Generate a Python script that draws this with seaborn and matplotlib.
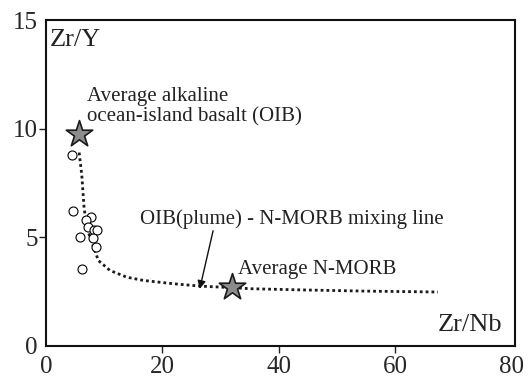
import numpy as np
import pandas as pd
import matplotlib
matplotlib.use("Agg")
import matplotlib.pyplot as plt
import seaborn as sns

# Sample data (Zr/Nb vs Zr/Y)
sample_zrnb = [4.5, 4.6, 7.7, 6.9, 7.3, 8.2, 8.85, 5.8, 8.05, 8.6, 6.2]
sample_zry = [8.8, 6.2, 5.95, 5.78, 5.45, 5.33, 5.33, 5.0, 4.96, 4.53, 3.55]

# End members
oib = (5.6, 9.75)
nmorb = (31.9, 2.72)

# Mixing line
mix_zrnb = [5.7, 6.15, 6.55, 7.0, 8.2, 9.0, 11.0, 13.9, 16.8, 21.9, 26.5, 31.9, 35.2, 45.0, 55.0, 67.3]
mix_zry = [8.9, 7.88, 6.36, 5.45, 4.53, 3.93, 3.47, 3.16, 3.01, 2.86, 2.75, 2.68, 2.63, 2.57, 2.52, 2.48]

samples = pd.DataFrame({"zrnb": sample_zrnb, "zry": sample_zry})
mix = pd.DataFrame({"zrnb": mix_zrnb, "zry": mix_zry})
ends = pd.DataFrame({"zrnb": [oib[0], nmorb[0]], "zry": [oib[1], nmorb[1]]})

sns.set_theme(style="ticks")
plt.rcParams["font.family"] = ["Liberation Serif", "DejaVu Serif"]

fig = plt.figure(figsize=(5.28, 3.78), dpi=100)
ax = fig.add_axes([0.087, 0.085, 0.888, 0.862])

sns.lineplot(data=mix, x="zrnb", y="zry", sort=False, ax=ax, color="#1a1a1a",
             linewidth=2.0, linestyle=(0, (1, 1.1)), zorder=2)
sns.scatterplot(data=samples, x="zrnb", y="zry", ax=ax, s=42, facecolor="white",
                edgecolor="black", linewidth=0.8, zorder=3)
sns.scatterplot(data=ends, x="zrnb", y="zry", ax=ax, marker="*", s=400,
                color="#8c8c8c", edgecolor="#1a1a1a", linewidth=1.2, zorder=4)

ax.set_xlim(0, 80.5)
ax.set_ylim(0, 15)
ax.set_xticks([0, 20, 40, 60, 80])
ax.set_yticks([0, 5, 10, 15])
ax.set_xlabel("")
ax.set_ylabel("")
ax.tick_params(labelsize=18, length=5, width=1, color="#222", pad=1)
ax.tick_params(axis="x", pad=2)

# no tick marks at the ends
for t in [ax.xaxis.get_major_ticks()[0], ax.xaxis.get_major_ticks()[-1],
          ax.yaxis.get_major_ticks()[0], ax.yaxis.get_major_ticks()[-1]]:
    t.tick1line.set_visible(False)

for s in ax.spines.values():
    s.set_visible(True)
    s.set_linewidth(1.5)
    s.set_color("#111")

ax.text(0.7, 14.1, "Zr/Y", fontsize=19, va="center", ha="left", color="#222")
ax.text(78.3, 0.95, "Zr/Nb", fontsize=19, va="center", ha="right", color="#222")

ax.text(7.1, 11.0, "Average alkaline\nocean-island basalt (OIB)", fontsize=15,
        va="center", ha="left", color="#222", linespacing=1.05)
ax.text(16.2, 5.85, "OIB(plume) - N-MORB mixing line", fontsize=15,
        va="center", ha="left", color="#222")
ax.text(33.0, 3.5, "Average N-MORB", fontsize=15, va="center", ha="left", color="#222")

ax.annotate("", xy=(26.4, 2.62), xytext=(28.7, 5.3),
            arrowprops=dict(arrowstyle="-|>", color="#111", lw=1.0,
                            mutation_scale=12, shrinkA=0, shrinkB=0))

fig.savefig("out.png", dpi=100)
